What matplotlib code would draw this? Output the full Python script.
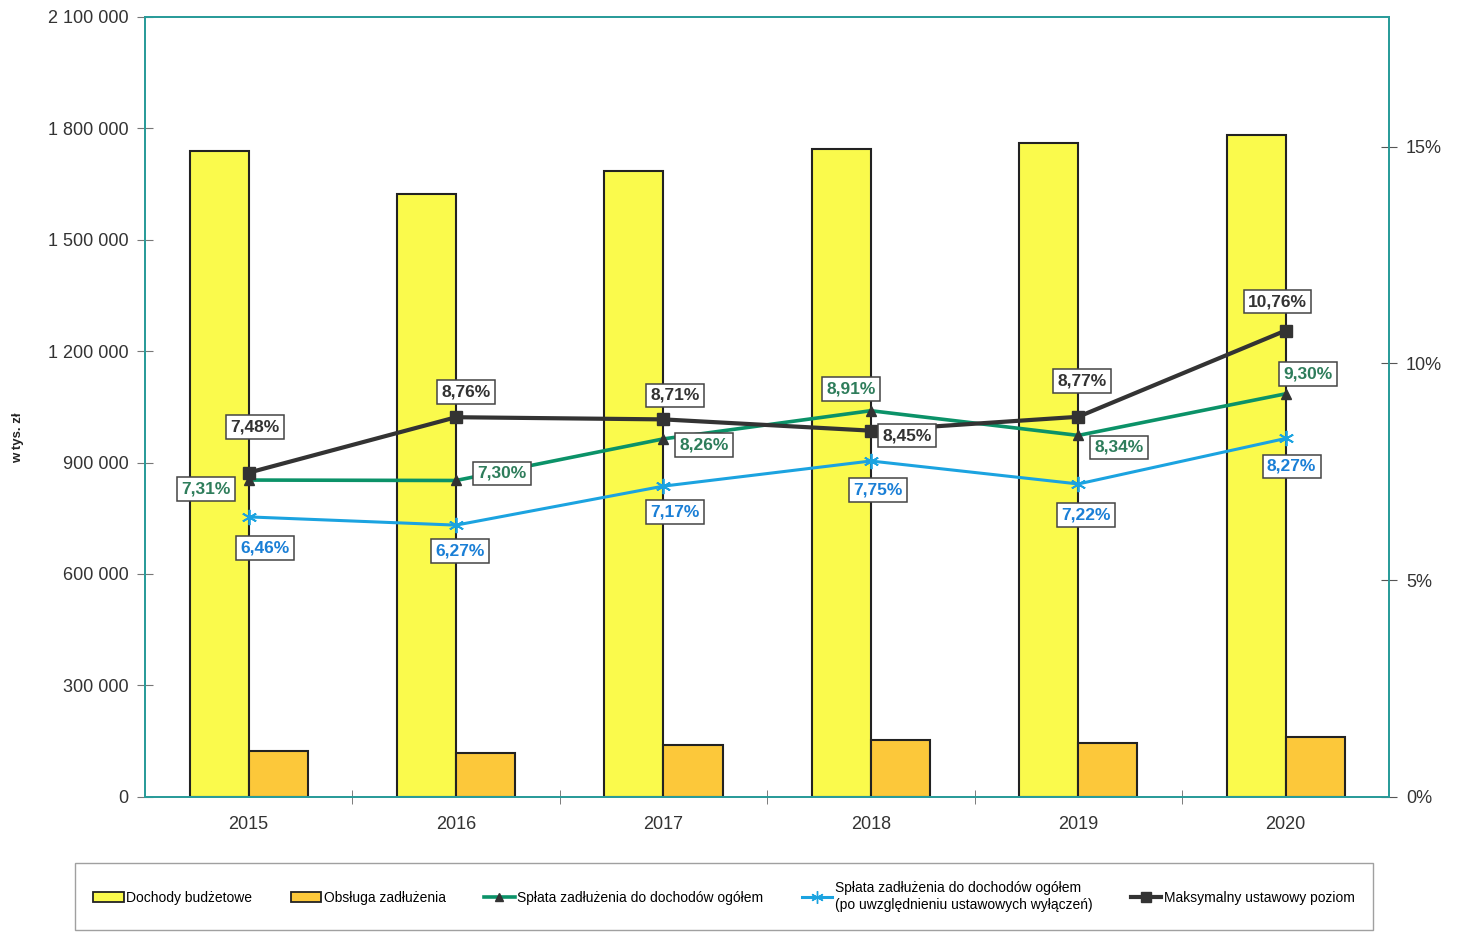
import matplotlib.pyplot as plt
from matplotlib.ticker import FuncFormatter, FixedLocator
from matplotlib.lines import Line2D
from matplotlib.patches import Patch

plt.rcParams['font.family'] = ['Liberation Sans', 'DejaVu Sans']

# Data
years = ['2015', '2016', '2017', '2018', '2019', '2020']
dochody = [1738000, 1624000, 1684000, 1743000, 1759000, 1781000]
obsluga = [124000, 119000, 140000, 154000, 146000, 162000]
splata = [7.31, 7.30, 8.26, 8.91, 8.34, 9.30]
splata_wyl = [6.46, 6.27, 7.17, 7.75, 7.22, 8.27]
maks = [7.48, 8.76, 8.71, 8.45, 8.77, 10.76]

# Label offsets in pixels (dx, dy) relative to point
off_maks = [(6, 46), (10, 25), (12, 24), (36, -5), (4, 36), (-8, 29)]
off_splata = [(-43, -9), (46, 7), (41, -6), (-20, 22), (41, -12), (22, 20)]
off_wyl = [(16, -31), (4, -26), (12, -26), (7, -29), (8, -31), (6, -28)]

# Colors
yellow = '#FAFA4C'
orange = '#FCC83A'
green = '#0B9268'
green_txt = '#2E7D5B'
blue = '#1BA3E0'
blue_txt = '#1A7FD6'
dark = '#333333'
teal = '#2A9C9A'

fig = plt.figure(figsize=(14.64, 9.32), dpi=100)
ax = fig.add_axes([0.099, 0.145, 0.850, 0.837])

x = list(range(len(years)))
w = 0.285
ax.bar([i - w / 2 for i in x], dochody, width=w, color=yellow, edgecolor='#222222', linewidth=1.5, zorder=2)
ax.bar([i + w / 2 for i in x], obsluga, width=w, color=orange, edgecolor='#222222', linewidth=1.5, zorder=2)

ax.set_xlim(-0.5, len(years) - 0.5)
ax.set_ylim(0, 2100000)
ax.set_yticks(range(0, 2100001, 300000))
ax.yaxis.set_major_formatter(FuncFormatter(lambda v, p: f'{int(v):,}'.replace(',', ' ')))
ax.set_xticks(x)
ax.set_xticklabels(years)
ax.xaxis.set_minor_locator(FixedLocator([i + 0.5 for i in x[:-1]]))
ax.tick_params(axis='x', which='major', length=0, pad=14, labelsize=13, colors='#333333')
ax.tick_params(axis='x', which='minor', length=10, direction='inout', color='#666666')
ax.tick_params(axis='y', length=12, direction='inout', color='#777777', labelsize=13,
               labelcolor='#333333', pad=6)
for s in ['top', 'left', 'right', 'bottom']:
    ax.spines[s].set_color(teal)
    ax.spines[s].set_linewidth(1.3)
ax.set_ylabel('w tys. zł', fontsize=9.5, fontweight='bold', color='#222222')
ax.yaxis.set_label_coords(-0.097, 0.46)

ax2 = ax.twinx()
ax2.set_ylim(0, 18)
ax2.set_yticks([0, 5, 10, 15])
ax2.yaxis.set_major_formatter(FuncFormatter(lambda v, p: f'{int(v)}%'))
ax2.tick_params(axis='y', length=12, direction='inout', color='#555555', labelsize=13,
                labelcolor='#333333', pad=6)
for s in ['top', 'left', 'right', 'bottom']:
    ax2.spines[s].set_color(teal)
    ax2.spines[s].set_linewidth(1.3)

ax2.plot(x, splata_wyl, color=blue, linewidth=2.2, marker=(6, 2, 0), markersize=11,
         markeredgecolor=blue, markeredgewidth=1.3, zorder=3)
ax2.plot(x, splata, color=green, linewidth=2.6, marker='^', markersize=7,
         markerfacecolor='#333333', markeredgecolor='#333333', zorder=4)
ax2.plot(x, maks, color=dark, linewidth=3, marker='s', markersize=8,
         markerfacecolor=dark, markeredgecolor=dark, zorder=5)


def pct(v):
    return f'{v:.2f}%'.replace('.', ',')


for vals, offs, col in [(maks, off_maks, dark), (splata, off_splata, green_txt), (splata_wyl, off_wyl, blue_txt)]:
    for i, (v, (dx, dy)) in enumerate(zip(vals, offs)):
        ax2.annotate(pct(v), (i, v), xytext=(dx, dy), textcoords='offset pixels',
                     ha='center', va='center', fontsize=12.5, fontweight='bold', color=col,
                     bbox=dict(boxstyle='square,pad=0.25', facecolor='white', edgecolor='#444444',
                               linewidth=1.1), zorder=6)

handles = [
    Patch(facecolor=yellow, edgecolor='#222222', linewidth=1.3),
    Patch(facecolor=orange, edgecolor='#222222', linewidth=1.3),
    Line2D([0], [0], color=green, linewidth=2.6, marker='^', markersize=6,
           markerfacecolor='#333333', markeredgecolor='#333333'),
    Line2D([0], [0], color=blue, linewidth=2.2, marker=(6, 2, 0), markersize=9,
           markeredgecolor=blue),
    Line2D([0], [0], color=dark, linewidth=3, marker='s', markersize=7, markerfacecolor=dark),
]
labels = ['Dochody budżetowe', 'Obsługa zadłużenia', 'Spłata zadłużenia do dochodów ogółem',
          'Spłata zadłużenia do dochodów ogółem\n(po uwzględnieniu ustawowych wyłączeń)',
          'Maksymalny ustawowy poziom']
leg = fig.legend(handles, labels, ncol=5, loc='lower left',
                 bbox_to_anchor=(68 / 1464, -0.005, (1380 - 68) / 1464, 76 / 932),
                 mode='expand', fontsize=10, frameon=True, fancybox=False,
                 edgecolor='#888888', handlelength=2.2, handletextpad=0.2,
                 columnspacing=1.0, borderpad=1.3, handleheight=0.7)
leg.get_frame().set_linewidth(1.0)

fig.savefig('out.png', dpi=100, facecolor='white')
